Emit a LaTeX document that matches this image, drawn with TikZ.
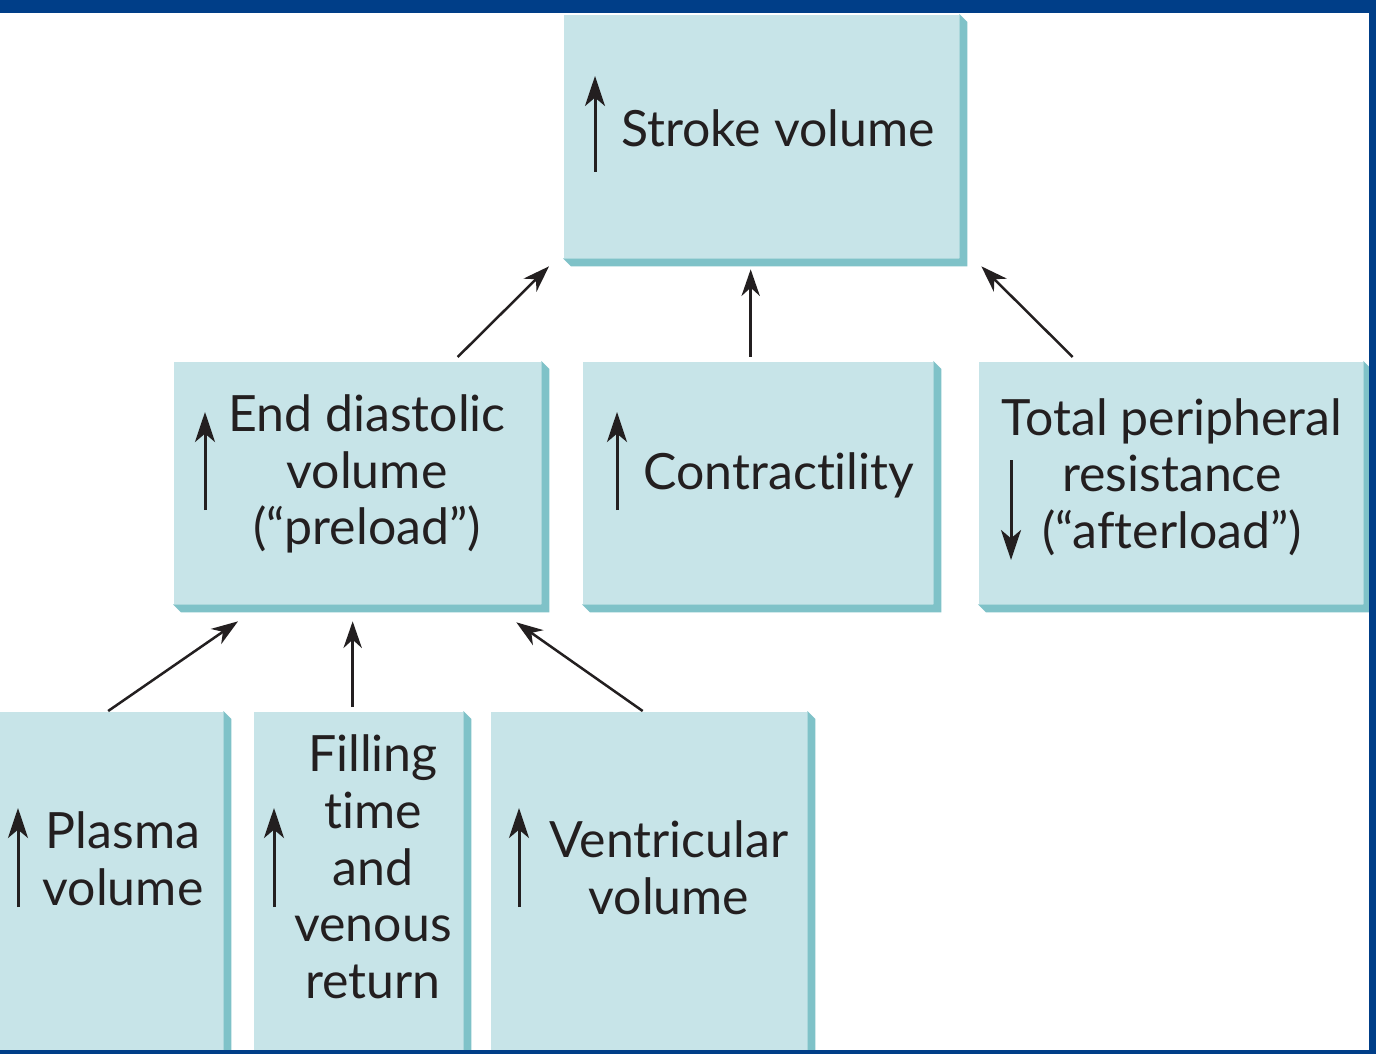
\documentclass[tikz,border=0pt]{standalone}
\usepackage{fontspec}
\setmainfont{Lato}[RawFeature={-liga;-clig;-calt;-dlig}]
\usetikzlibrary{arrows.meta,calc}
\definecolor{facecol}{HTML}{C7E4E8}
\definecolor{rimcol}{HTML}{7FC2C8}
\definecolor{framecol}{HTML}{003E88}
\definecolor{inkcol}{HTML}{231F20}
\newcommand\pxl{0.3pt}
\begin{document}
\begin{tikzpicture}[
    x=0.3pt, y=-0.3pt,
    font=\fontsize{15}{17}\selectfont,
    box/.style={fill=facecol, inner sep=0pt, anchor=north west, minimum height=242*\pxl},
    rim/.style={fill=rimcol},
    txt/.style={text=inkcol, align=center, inner sep=0pt},
    link/.style={-{Stealth[length=8pt,width=5.5pt,inset=2.5pt]}, line width=0.75pt, draw=inkcol},
    trend/.style={-{Stealth[length=9pt,width=6pt,inset=2.5pt]}, line width=0.9pt, draw=inkcol}
]
\clip (0,0) rectangle (1376,1054);
\fill[white] (0,0) rectangle (1376,1054);

% boxes
\node[box, minimum width=395*\pxl, minimum height=243*\pxl] (sv) at (563,14) {};
\node[box, minimum width=367*\pxl] (edv) at (173,361) {};
\node[box, minimum width=350*\pxl] (con) at (582,361) {};
\node[box, minimum width=384*\pxl] (tpr) at (978,361) {};
\node[box, minimum width=227*\pxl, minimum height=349*\pxl] (pl) at (-5,711) {};
\node[box, minimum width=209*\pxl, minimum height=349*\pxl] (fil) at (253,711) {};
\node[box, minimum width=316*\pxl, minimum height=349*\pxl] (ven) at (490,711) {};

\foreach \n in {sv,edv,con,tpr,pl,fil,ven}
  \fill[rim] (\n.north east) -- ++(8,8) |- ([shift={(8,8)}]\n.south west) -- (\n.south west) -- (\n.south east) -- cycle;

% labels
\node[txt] (svt) at (778,128) {Stroke volume};
\node[txt] (edvt) at (367,474) {End diastolic\\volume\\(“preload”)};
\node[txt] (cont) at (779,475) {Contrac\kern0pt tility};
\node[txt] (tprt) at (1172,477) {Total peripheral\\resistance\\(“af\kern0pt terload”)};
\node[txt] (plt) at (123,859) {Plasma\\volume};
\node[txt] (filt) at (373,867) {Filling\\time\\and\\venous\\return};
\node[txt] (vent) at (669,868) {Ventricular\\volume};

% up and down marks
\draw[trend] (595,172) -- (595,76);
\draw[trend] (205,510) -- (205,412);
\draw[trend] (617,510) -- (617,412);
\draw[trend] (1011,460) -- (1011,560);
\draw[trend] (18,907) -- (18,808);
\draw[trend] (274,907) -- (274,808);
\draw[trend] (519,907) -- (519,808);

% connectors
\draw[link] ([shift={(100.5,-4)}]edv.north) -- ([shift={(-14,8)}]sv.south west);
\draw[link] ([shift={(-7,-4)}]con.north) -- ([shift={(-10.5,11)}]sv.south);
\draw[link] ([shift={(-98,-4)}]tpr.north) -- ([shift={(22,8)}]sv.south east);
\draw[link] ([shift={(-1,0)}]pl.north) -- ([shift={(65,17)}]edv.south west);
\draw[link] ([shift={(-5.5,-4)}]fil.north) -- ([shift={(-4.5,17)}]edv.south);
\draw[link] ([shift={(-6,0)}]ven.north) -- ([shift={(-25,18)}]edv.south east);

% frame
\fill[framecol] (0,0) rectangle (1376,13);
\fill[framecol] (1369,0) rectangle (1376,1054);
\fill[framecol] (0,1050) rectangle (1376,1054);
\end{tikzpicture}
\end{document}
